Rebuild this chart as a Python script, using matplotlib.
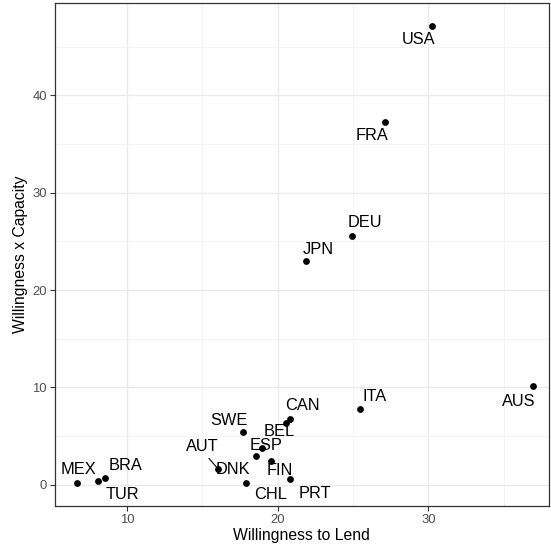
import numpy as np
import matplotlib
matplotlib.use("Agg")
import matplotlib.pyplot as plt
from matplotlib.ticker import MultipleLocator

plt.rcParams['font.family'] = ['Liberation Sans', 'DejaVu Sans']

countries = ["USA", "FRA", "DEU", "JPN", "ITA", "AUS", "MEX", "BRA", "TUR",
             "SWE", "AUT", "DNK", "ESP", "BEL", "CAN", "FIN", "CHL", "PRT"]
willingness = [30.23, 27.14, 24.93, 21.86, 25.49, 36.92, 6.70, 8.54, 8.10,
               17.68, 16.06, 18.54, 18.98, 20.53, 20.80, 19.54, 17.90, 20.80]
will_x_cap = [47.10, 37.24, 25.60, 22.99, 7.78, 10.12, 0.15, 0.72, 0.33,
              5.38, 1.57, 2.95, 3.80, 6.37, 6.78, 2.47, 0.20, 0.62]

# label offsets in points (repel-like placement)
offsets = {
    "USA": (-10, -9.6), "FRA": (-9.6, -9.6), "DEU": (9.4, 9.6),
    "JPN": (9.1, 8.1), "ITA": (9.8, 9.1), "AUS": (-10, -10.8),
    "MEX": (0.7, 9.8), "BRA": (14.7, 8.9), "TUR": (17, -9.4),
    "SWE": (-9.8, 8.6), "AUT": (-11.5, 16.1), "DNK": (-16.1, -9.9),
    "ESP": (2.6, 1.7), "BEL": (-5, -6.7), "CAN": (9.4, 9.6),
    "FIN": (6.7, -7), "CHL": (17.3, -8.4), "PRT": (18.4, -10.8),
}

fig = plt.figure(figsize=(5.51, 5.52), dpi=100)
ax = fig.add_axes([0.099, 0.0833, 0.8974, 0.9113])

ax.scatter(willingness, will_x_cap, s=24, color="black", zorder=3, linewidths=0)

for name, x, y in zip(countries, willingness, will_x_cap):
    dx, dy = offsets[name]
    arrow = None
    if name == "AUT":
        arrow = dict(arrowstyle="-", color="black", lw=0.8, shrinkA=1,
                     shrinkB=0, relpos=(0.6, 0.0))
    ax.annotate(name, (x, y), xytext=(dx, dy), textcoords="offset points",
                ha="center", va="center", fontsize=11.8, color="black",
                arrowprops=arrow, zorder=4)

ax.set_xlim(5.19, 38.0)
ax.set_ylim(-2.2, 49.5)
ax.xaxis.set_major_locator(MultipleLocator(10))
ax.yaxis.set_major_locator(MultipleLocator(10))
ax.xaxis.set_minor_locator(MultipleLocator(5))
ax.yaxis.set_minor_locator(MultipleLocator(5))

ax.grid(which="major", color="#EBEBEB", linewidth=1.0, zorder=0)
ax.grid(which="minor", color="#F2F2F2", linewidth=0.6, zorder=0)
ax.set_axisbelow(True)
ax.tick_params(which="minor", length=0)
ax.tick_params(which="major", length=3.5, width=0.8, color="#333333",
               labelcolor="#4D4D4D", labelsize=9.4, pad=2)
for sp in ax.spines.values():
    sp.set_color("#333333")
    sp.set_linewidth(0.9)

ax.set_xlabel("Willingness to Lend", fontsize=11.3, labelpad=2)
ax.set_ylabel("Willingness x Capacity", fontsize=11.3, labelpad=3)

fig.savefig("out.png", dpi=100)
